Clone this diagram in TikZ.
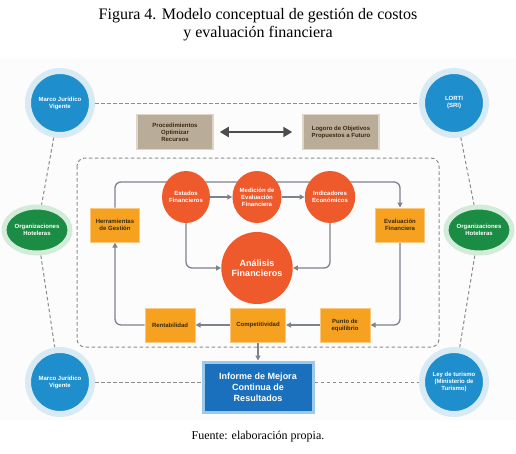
\documentclass[tikz,border=0pt]{standalone}
\usepackage{fontspec}
\setmainfont{Liberation Serif}
\newfontfamily\dsans{Liberation Sans}
\usetikzlibrary{arrows.meta,shapes.geometric}
\definecolor{cblue}{HTML}{1E8ECC}
\definecolor{cbluehalo}{HTML}{D8EBF5}
\definecolor{cgreen}{HTML}{1B8C43}
\definecolor{cgreenhalo}{HTML}{D3EBD9}
\definecolor{cred}{HTML}{EE5A2B}
\definecolor{corange}{HTML}{F6A11F}
\definecolor{corangehalo}{HTML}{FAC980}
\definecolor{ctan}{HTML}{B9AC98}
\definecolor{ctanhalo}{HTML}{DDD5C8}
\definecolor{cinf}{HTML}{1A70BC}
\definecolor{cinfhalo}{HTML}{9CC8EA}
\definecolor{cflow}{HTML}{7D838C}
\definecolor{cdash}{HTML}{8C8C8C}
\definecolor{cdark}{HTML}{4D4D4D}
\definecolor{ctxt}{HTML}{3A2A10}
\definecolor{cbg}{HTML}{FCFCFC}
\pgfdeclarelayer{bg}
\pgfdeclarelayer{back}
\pgfsetlayers{back,bg,main}
\tikzset{
  smallfont/.style={font=\dsans\bfseries\fontsize{6}{7}\selectfont},
  bluecirc/.style={circle, fill=cblue, draw=cbluehalo, line width=6pt, minimum size=64pt, inner sep=0pt, text=white, align=center, smallfont},
  greenell/.style={ellipse, fill=cgreen, draw=cgreenhalo, line width=5pt, minimum width=66pt, minimum height=46pt, inner sep=0pt, text=white, align=center, smallfont},
  redcirc/.style={ellipse, fill=cred, minimum width=48pt, minimum height=52pt, inner sep=0pt, text=white, align=center, smallfont},
  orbox/.style={rectangle, fill=corange, draw=corangehalo, line width=1pt, minimum width=49pt, minimum height=34pt, inner sep=1pt, text=ctxt, align=center, smallfont},
  tanbox/.style={rectangle, fill=ctan, draw=ctanhalo, line width=1.5pt, minimum width=76pt, minimum height=35pt, inner sep=1pt, text=ctxt, align=center, smallfont},
  outdash/.style={draw=cdash, line width=1pt, dash pattern=on 3.5pt off 2.5pt},
  flow/.style={draw=cflow, line width=1.3pt, rounded corners=6pt, -{Triangle[length=5pt,width=5pt]}},
  bigarrow/.style={draw=cdark, line width=2.6pt, {Triangle[length=9pt,width=10pt]}-{Triangle[length=9pt,width=10pt]}}
}
\begin{document}
\begin{tikzpicture}[x=1pt,y=-1pt]
\useasboundingbox (0,0) rectangle (516,453);
\begin{pgfonlayer}{back}
\fill[cbg] (0,58) rectangle (516,420);
\end{pgfonlayer}

\node[font=\fontsize{16}{18}\selectfont, align=center] (title) at (258,24.5) {Figura 4. Modelo conceptual de gestión de costos\\y evaluación financiera};

% outer nodes
\node[bluecirc] (mj1) at (60,103) {Marco Jurídico\\Vigente};
\node[bluecirc] (lorti) at (454,103) {LORTI\\(SRI)};
\node[greenell] (orgL) at (37,230) {Organizaciones\\Hoteleras};
\node[greenell] (orgR) at (479,230) {Organizaciones\\Hoteleras};
\node[bluecirc] (mj2) at (60,382) {Marco Jurídico\\Vigente};
\node[bluecirc] (ley) at (454,382) {Ley de turismo\\(Ministerio de\\Turismo)};

% top boxes
\node[tanbox] (proc) at (175,132) {Procedimientos\\Optimizar\\Recursos};
\node[tanbox] (logro) at (341,132) {Logoro de Objetivos\\Propuestos a Futuro};
\draw[bigarrow, shorten <=6pt, shorten >=10pt] (proc) -- (logro);

% inner dashed frame
\draw[outdash, rounded corners=8pt] (77,158) rectangle (439,347);

% inner circles
\node[redcirc] (est) at (186,197) {Estados\\Financieros};
\node[redcirc] (med) at (257,197) {Medición de\\Evaluación\\Financiera};
\node[redcirc] (ind) at (330,197) {Indicadores\\Económicos};
\node[redcirc, minimum width=68pt, minimum height=72pt, font=\dsans\bfseries\fontsize{9}{10.5}\selectfont] (anal) at (257,268) {Análisis\\Financieros};

% inner boxes
\node[orbox] (herr) at (115,225) {Herramientas\\de Gestión};
\node[orbox] (eval) at (400,225) {Evaluación\\Financiera};
\node[orbox, minimum width=50pt] (rent) at (170,325) {Rentabilidad};
\node[orbox, minimum width=55pt] (comp) at (258,325) {Competitividad};
\node[orbox, minimum width=50pt] (punto) at (345,325) {Punto de\\equilibrio};

% informe
\node[rectangle, fill=cinf, draw=cinfhalo, line width=3pt, minimum width=110pt, minimum height=50pt, text=white, align=center, font=\dsans\bfseries\fontsize{9}{10.8}\selectfont] (inf) at (258,387) {Informe de Mejora\\Continua de\\Resultados};

\coordinate (ctl) at (115,182);
\coordinate (ctr) at (400,182);

\begin{pgfonlayer}{bg}
\draw[outdash] (mj1) -- (lorti);
\draw[outdash] (mj1) -- (orgL);
\draw[outdash] (orgL) -- (mj2);
\draw[outdash] (lorti) -- (orgR);
\draw[outdash] (orgR) -- (ley);
\draw[outdash] (mj2) -- (mj2 -| inf.west);
\draw[outdash] (ley -| inf.east) -- (ley);

\draw[flow] (herr.north) -- (ctl) -- (ctr) -- (eval.north);
\draw[flow] (est) -- (med);
\draw[flow] (med) -- (ind);
\draw[flow] (est.south) |- (anal.west);
\draw[flow] (ind.south) |- (anal.east);
\draw[flow] (eval.south) |- (punto.east);
\draw[flow] (punto) -- (comp);
\draw[flow] (comp) -- (rent);
\draw[flow] (rent.west) -| (herr.south);
\draw[flow] (comp.south) -- (inf.north);
\end{pgfonlayer}

\node[font=\fontsize{12}{14}\selectfont] (fuente) at (258,437) {Fuente: elaboración propia.};
\end{tikzpicture}
\end{document}
